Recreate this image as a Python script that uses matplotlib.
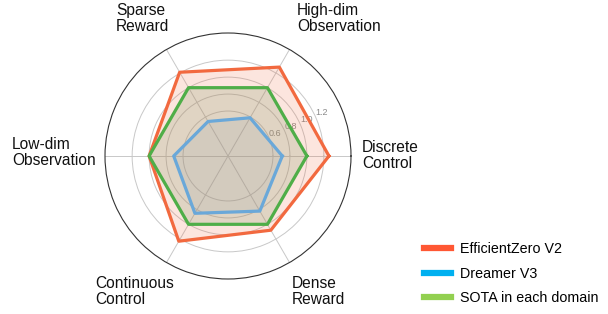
import matplotlib
matplotlib.use('Agg')
import matplotlib.pyplot as plt
import numpy as np
from matplotlib.lines import Line2D

plt.rcParams['font.family'] = ['Liberation Sans', 'DejaVu Sans']

categories = ['Discrete\nControl', 'High-dim\nObservation', 'Sparse\nReward',
              'Low-dim\nObservation', 'Continuous\nControl', 'Dense\nReward']
ezv2 = [1.26, 1.28, 1.21, 1.00, 1.23, 1.08]
dreamer = [0.71, 0.59, 0.54, 0.71, 0.85, 0.82]
sota = [1.0, 1.0, 1.0, 1.0, 1.0, 1.0]
series_names = ['EfficientZero V2', 'Dreamer V3', 'SOTA in each domain']
rticks = [0.6, 0.8, 1.0, 1.2]

# label positions in pixels (left, top)
label_pos = [(362, 140), (297, 3), (116, 3), (12, 137), (95, 276), (292, 276)]

W, H = 608, 314
fig = plt.figure(figsize=(W / 100, H / 100), dpi=100)
ax = fig.add_axes([(228 - 123) / W, (314 - 156 - 123) / H, 246 / W, 246 / H], polar=True)

theta = np.deg2rad(np.arange(6) * 60)
th = np.append(theta, theta[0])

line_cols = ['#F2693F', '#6AA8D9', '#4FAE48']
fill_cols = ['#F2693F', '#8A98A6', '#889E70']
for vals, fc, a in [(ezv2, fill_cols[0], 0.17),
                    (sota, fill_cols[2], 0.24),
                    (dreamer, fill_cols[1], 0.15)]:
    v = np.append(vals, vals[0])
    ax.fill(th, v, color=fc, alpha=a, lw=0, zorder=2)
for vals, lc in [(ezv2, line_cols[0]), (sota, line_cols[2]), (dreamer, line_cols[1])]:
    v = np.append(vals, vals[0])
    ax.plot(th, v, color=lc, lw=2.3, zorder=3)

ax.set_ylim(0.07, 1.52)
ax.set_yticks(rticks)
ax.set_yticklabels([f'{t:.1f}' for t in rticks], fontsize=6.5, color='#8a8a8a')
ax.set_rlabel_position(24)
ax.set_xticks(theta)
ax.set_xticklabels([])
ax.grid(color='#c8c8c8', lw=0.7)
ax.spines['polar'].set_color('#333333')
ax.spines['polar'].set_linewidth(0.8)

for lab, (x, y) in zip(categories, label_pos):
    fig.text(x / W, 1 - y / H, lab, ha='left', va='top', fontsize=11.2, color='#111111',
             linespacing=1.1)

handles = [Line2D([], [], color=c, lw=4.5) for c in ['#FF5733', '#00B0F0', '#92D050']]
fig.legend(handles, series_names, loc='upper left', bbox_to_anchor=(424 / W, 1 - 242 / H),
           frameon=False, fontsize=10.3, handlelength=1.9, handletextpad=0.65,
           labelspacing=0.75, borderpad=0, borderaxespad=0)

fig.savefig('out.png', dpi=100)
